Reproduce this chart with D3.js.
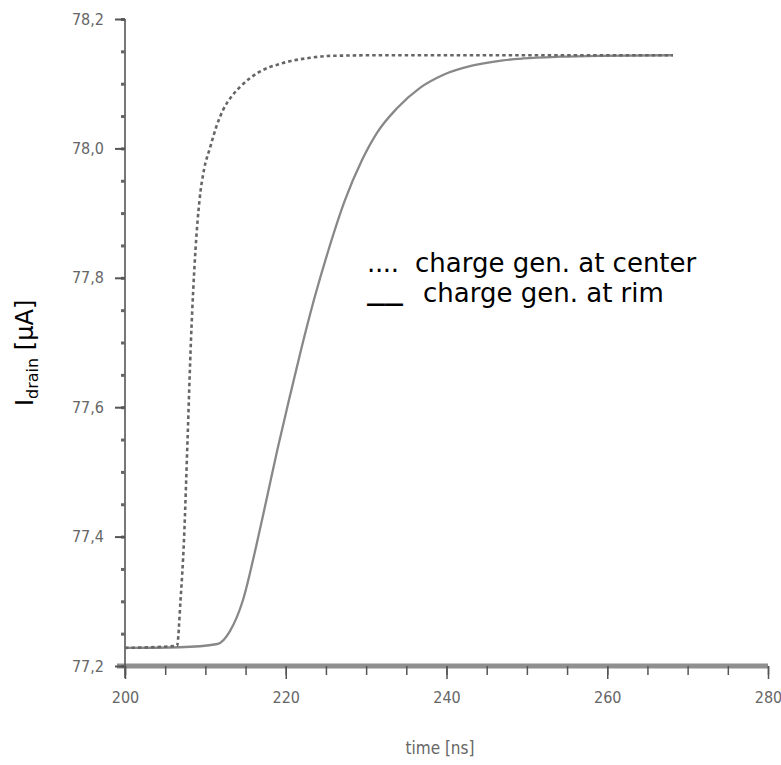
<!DOCTYPE html>
<head>
<meta charset="utf-8">
<script src="https://d3js.org/d3.v7.min.js"></script>
<style>
    body { margin: 0; background: #fff; }
    .tick text {
        font-family: "Liberation Sans Narrow", "DejaVu Sans Condensed", "Roboto Condensed", sans-serif;
        font-stretch: condensed;
        font-size: 16px;
        fill: #666;
    }
    .axisTitle {
        font-family: "Liberation Sans Narrow", "DejaVu Sans Condensed", sans-serif;
        font-stretch: condensed;
        font-size: 17px;
        fill: #666;
    }
    .legend text, .yTitle {
        font-family: "DejaVu Sans", Verdana, sans-serif;
        fill: #000;
    }
</style>
</head>
<body>
<svg width="781" height="765"></svg>
<script>
    // time [ns] and drain current [uA]
    var centerTime = [200, 206.47, 206.91, 207.34, 207.78, 208.21, 208.77, 209.27, 209.83, 210.58, 211.32, 212.19, 213.31, 214.31, 216.55, 219.66, 223.02, 225.51, 231.73, 268.18];
    var centerCurrent = [77.228, 77.231, 77.302, 77.395, 77.549, 77.704, 77.843, 77.920, 77.967, 78.001, 78.032, 78.059, 78.081, 78.095, 78.117, 78.132, 78.140, 78.143, 78.144, 78.144];

    var rimTime = [200, 206.8, 211.5, 213.06, 214.68, 216.30, 217.60, 218.97, 220.40, 221.89, 223.51, 225.32, 227.31, 229.49, 231.35, 233.84, 236.70, 239.56, 243.30, 247.03, 249.52, 254.12, 259.10, 268.18];
    var rimCurrent = [77.228, 77.229, 77.234, 77.254, 77.302, 77.384, 77.457, 77.535, 77.611, 77.688, 77.766, 77.843, 77.918, 77.982, 78.024, 78.062, 78.0936, 78.1135, 78.1282, 78.1362, 78.1390, 78.1417, 78.1431, 78.144];

    var xMajor = [200, 220, 240, 260, 280];
    var xMinor = d3.range(200, 281, 5);
    var yMajor = [77.2, 77.4, 77.6, 77.8, 78.0, 78.2];
    var yMinor = d3.range(0, 21).map(function (i) { return 77.2 + i * 0.05; });

    var svg = d3.select("svg");

    var x = d3.scaleLinear().domain([200, 280]).range([125, 768]);
    var y = d3.scaleLinear().domain([77.2, 78.2]).range([666, 19]);

    var comma = function (d) { return d3.format(".1f")(d).replace(".", ","); };

    // x axis: thick grey bar with ticks below
    svg.append("line")
        .attr("x1", x(200) - 8).attr("x2", x(280))
        .attr("y1", y(77.2)).attr("y2", y(77.2))
        .attr("stroke", "#8f8f8f").attr("stroke-width", 5);

    var gxMinor = svg.append("g")
        .attr("transform", "translate(0," + y(77.2) + ")")
        .call(d3.axisBottom(x).tickValues(xMinor).tickSize(9).tickFormat(""));
    var gx = svg.append("g")
        .attr("transform", "translate(0," + y(77.2) + ")")
        .call(d3.axisBottom(x).tickValues(xMajor).tickSize(13).tickPadding(13).tickFormat(d3.format("d")));
    svg.selectAll("g").select(".domain").remove();
    gx.selectAll(".tick line").attr("stroke", "#555").attr("stroke-width", 1.5);
    gxMinor.selectAll(".tick line").attr("stroke", "#555").attr("stroke-width", 1.5);

    // y axis
    svg.append("line")
        .attr("x1", x(200)).attr("x2", x(200))
        .attr("y1", y(78.2)).attr("y2", y(77.2) + 12)
        .attr("stroke", "#555").attr("stroke-width", 1.6);

    var gyMinor = svg.append("g")
        .attr("transform", "translate(" + x(200) + ",0)")
        .call(d3.axisLeft(y).tickValues(yMinor).tickSize(4).tickFormat(""));
    var gy = svg.append("g")
        .attr("transform", "translate(" + x(200) + ",0)")
        .call(d3.axisLeft(y).tickValues(yMajor).tickSize(10).tickPadding(11).tickFormat(comma));
    gyMinor.select(".domain").remove();
    gy.select(".domain").remove();
    gyMinor.selectAll(".tick line").attr("stroke", "#666").attr("stroke-width", 3);
    gy.selectAll(".tick line").attr("stroke", "#555").attr("stroke-width", 2);

    // curves
    var line = d3.line()
        .x(function (d) { return x(d[0]); })
        .y(function (d) { return y(d[1]); })
        .curve(d3.curveMonotoneX);

    svg.append("path")
        .datum(d3.zip(rimTime, rimCurrent))
        .attr("fill", "none")
        .attr("stroke", "#888")
        .attr("stroke-width", 2.3)
        .attr("d", line);

    svg.append("path")
        .datum(d3.zip(centerTime, centerCurrent))
        .attr("fill", "none")
        .attr("stroke", "#666")
        .attr("stroke-width", 2.6)
        .attr("stroke-dasharray", "3.5,3")
        .attr("d", line);

    // axis titles
    svg.append("text")
        .attr("class", "axisTitle")
        .attr("x", 440).attr("y", 754)
        .attr("text-anchor", "middle")
        .text("time [ns]");

    var yt = svg.append("text")
        .attr("class", "yTitle")
        .attr("transform", "translate(33,406) rotate(-90)")
        .attr("font-size", 24);
    yt.append("tspan").text("I");
    yt.append("tspan").attr("font-size", 16).attr("dy", 5).text("drain");
    yt.append("tspan").attr("dy", -5).text(" [µA]");

    // legend
    var legend = svg.append("g").attr("class", "legend").attr("font-size", 26);
    legend.append("text").attr("x", 367).attr("y", 272)
        .attr("textLength", 32).attr("lengthAdjust", "spacing").text("....");
    legend.append("text").attr("x", 415).attr("y", 272).text("charge gen. at center");
    legend.append("text").attr("x", 367).attr("y", 300).attr("font-weight", "bold")
        .attr("textLength", 36).attr("lengthAdjust", "spacingAndGlyphs").text("__");
    legend.append("text").attr("x", 423).attr("y", 302).text("charge gen. at rim");
</script>
</body>
